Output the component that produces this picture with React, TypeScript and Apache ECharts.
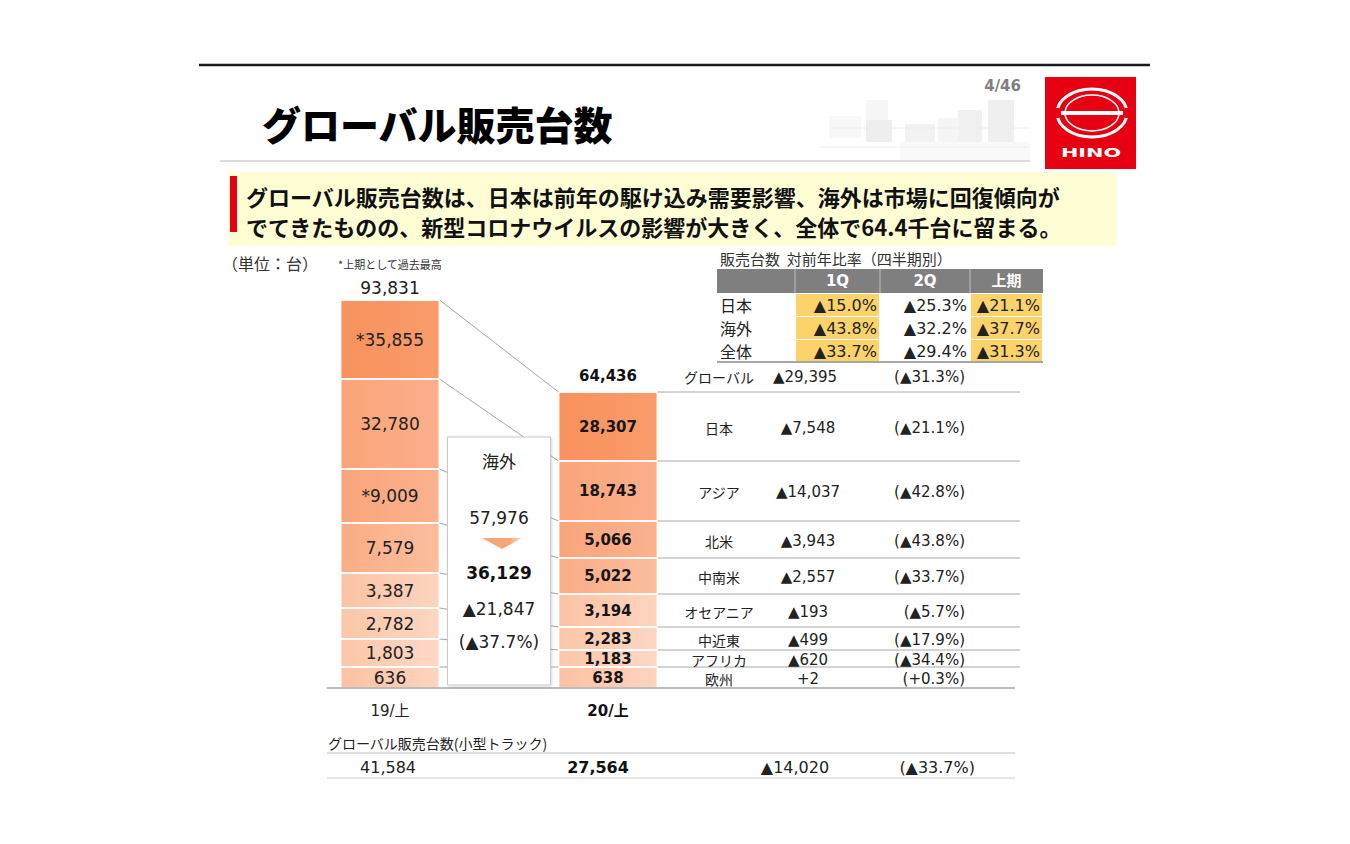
import { useEffect, useRef } from 'react';
import * as echarts from 'echarts';

const JP = '"Noto Sans CJK JP", "Noto Sans", sans-serif';
const NUM = '"DejaVu Sans", "Noto Sans CJK JP", sans-serif';

// ---- data ----
const periods = ['19/上', '20/上'];
const regions = ['日本', 'アジア', '北米', '中南米', 'オセアニア', '中近東', 'アフリカ', '欧州'];
const sales19 = [35855, 32780, 9009, 7579, 3387, 2782, 1803, 636];
const sales20 = [28307, 18743, 5066, 5022, 3194, 2283, 1183, 638];
const record19 = [true, false, true, false, false, false, false, false]; // * 上期として過去最高
const change = [-7548, -14037, -3943, -2557, -193, -499, -620, 2];
const changePct = [-21.1, -42.8, -43.8, -33.7, -5.7, -17.9, -34.4, 0.3];
// segment heights as drawn on the slide (schematic, not to scale)
const slideHeight19 = [79, 90, 54, 50, 35, 31, 28, 21];
const slideHeight20 = [69, 60, 37, 36, 33, 23, 17, 21];
const totals = [93831, 64436];
const globalChange = -29395;
const globalPct = -31.3;
const overseas = [57976, 36129];
const overseasChange = -21847;
const overseasPct = -37.7;
const smallTruck = [41584, 27564];
const smallTruckChange = -14020;
const smallTruckPct = -33.7;
const qRows = ['日本', '海外', '全体'];
const qCols = ['1Q', '2Q', '上期'];
const qJapan = [-15.0, -25.3, -21.1];
const qOverseas = [-43.8, -32.2, -37.7];
const qTotal = [-33.7, -29.4, -31.3];

// ---- styles ----
const segColors = [
  ['#F8925E', '#F99C6C'],
  ['#FAA47A', '#FBAF8A'],
  ['#F9A57B', '#FAB28E'],
  ['#FAAD85', '#FBBD9D'],
  ['#FCC3A5', '#FDD4BE'],
  ['#FCC6A9', '#FDD6C2'],
  ['#FCC6A9', '#FDD8C5'],
  ['#FCC2A3', '#FDD4BE'],
];

const fmt = (n: number) => n.toLocaleString('en-US');
const signed = (n: number) => (n < 0 ? '▲' + fmt(-n) : '+' + fmt(n));
const pct = (p: number) => (p < 0 ? '▲' : '+') + Math.abs(p).toFixed(1) + '%';

function txt(x: number, y: number, text: string, o: any = {}) {
  return {
    type: 'text',
    x,
    y,
    z: o.z ?? 20,
    scaleX: o.scaleX ?? 1,
    style: {
      text,
      fill: o.fill ?? '#222',
      fontSize: o.size ?? 15,
      fontFamily: o.family ?? JP,
      fontWeight: o.weight ?? 'normal',
      align: o.align ?? 'center',
      verticalAlign: 'middle',
    },
  };
}
function line(x1: number, y1: number, x2: number, y2: number, stroke: string, w = 1, z = 5) {
  return { type: 'line', z, shape: { x1, y1, x2, y2 }, style: { stroke, lineWidth: w } };
}
function rect(x: number, y: number, w: number, h: number, style: any, z = 1) {
  return { type: 'rect', z, shape: { x, y, width: w, height: h }, style };
}

export default function App() {
  const ref = useRef<HTMLDivElement>(null);

  useEffect(() => {
    if (!ref.current) return;
    const chart = echarts.init(ref.current, null, { renderer: 'svg' });

    const order = regions.map((_, i) => i).reverse();
    const series = order.map((i) => ({
      name: regions[i],
      type: 'bar',
      stack: 'total',
      barWidth: 99,
      itemStyle: {
        color: new echarts.graphic.LinearGradient(0, 0, 1, 0, [
          { offset: 0, color: segColors[i][0] },
          { offset: 1, color: segColors[i][1] },
        ]),
        borderColor: 'rgba(255,255,255,0.85)',
        borderWidth: 1,
      },
      data: [
        {
          value: slideHeight19[i],
          label: {
            show: true,
            position: 'inside',
            formatter: (record19[i] ? '*' : '') + fmt(sales19[i]),
            fontSize: 17,
            fontFamily: NUM,
            color: '#222',
          },
        },
        {
          value: slideHeight20[i],
          label: {
            show: true,
            position: 'inside',
            formatter: fmt(sales20[i]),
            fontSize: 15,
            fontWeight: 'bold',
            fontFamily: NUM,
            color: '#161616',
          },
        },
      ],
    }));

    chart.setOption({
      animation: false,
      backgroundColor: '#ffffff',
      grid: { left: 281, right: 633, top: 288, bottom: 156 },
      xAxis: {
        type: 'category',
        data: periods,
        axisLine: { show: false },
        axisTick: { show: false },
        axisLabel: {
          margin: 15,
          formatter: (v: string, idx: number) => (idx === 0 ? `{n|${v}}` : `{b|${v}}`),
          rich: {
            n: { fontSize: 15, fontFamily: NUM, color: '#222' },
            b: { fontSize: 15, fontFamily: NUM, fontWeight: 'bold', color: '#111' },
          },
        },
      },
      yAxis: { type: 'value', min: 0, max: 400, show: false },
      series,
    });

    const xL = chart.convertToPixel({ xAxisIndex: 0 }, periods[0]) as number;
    const xR = chart.convertToPixel({ xAxisIndex: 0 }, periods[1]) as number;
    const hw = 49.5;
    const bounds = (h: number[]) => {
      const T = h.reduce((a, b) => a + b, 0);
      const out: number[] = [];
      let v = T;
      out.push(chart.convertToPixel({ yAxisIndex: 0 }, v) as number);
      for (const s of h) {
        v -= s;
        out.push(chart.convertToPixel({ yAxisIndex: 0 }, v) as number);
      }
      return out;
    };
    const yL = bounds(slideHeight19);
    const yR = bounds(slideHeight20);
    const y0 = yL[yL.length - 1];

    const els: any[] = [];
    // page frame
    els.push(line(199, 65, 1150, 65, '#1a1a1a', 2.5));
    els.push(line(220, 161, 1030, 161, '#dcdcdc', 2));
    // faint pixelated artifacts
    const blocks = [
      [829, 116, 32, 22, '#f8f8f8'],
      [866, 100, 22, 20, '#f6f6f6'],
      [866, 120, 26, 22, '#eeeeee'],
      [905, 124, 30, 18, '#f2f2f2'],
      [938, 118, 20, 24, '#f5f5f5'],
      [958, 110, 24, 32, '#f0f0f0'],
      [988, 100, 26, 42, '#efefef'],
      [900, 142, 130, 18, '#f9f9f9'],
    ];
    blocks.forEach((b) => els.push(rect(b[0] as number, b[1] as number, b[2] as number, b[3] as number, { fill: b[4] as string }, 0)));
    els.push(line(830, 128, 1030, 128, '#eeeeee', 1, 0));
    els.push(line(820, 147, 1030, 147, '#eeeeee', 1, 0));
    els.push(txt(1021, 86, '4/46', { align: 'right', size: 15, weight: 'bold', fill: '#808080', family: NUM }));
    els.push(txt(262, 123, 'グローバル販売台数', { align: 'left', size: 39, weight: 900, fill: '#000' }));

    // logo
    els.push(rect(1045, 77, 91, 92, { fill: '#E60012' }, 2));
    els.push({ type: 'ellipse', z: 3, shape: { cx: 1092, cy: 113, rx: 35, ry: 24 }, style: { fill: 'none', stroke: '#fff', lineWidth: 3 } });
    els.push({ type: 'ellipse', z: 3, shape: { cx: 1092, cy: 113, rx: 27, ry: 18 }, style: { fill: 'none', stroke: '#fff', lineWidth: 1.5 } });
    els.push(rect(1061, 111, 62, 4, { fill: '#fff' }, 3));
    els.push(rect(1053, 108, 6, 10, { fill: '#E60012' }, 4));
    els.push(rect(1125, 108, 6, 10, { fill: '#E60012' }, 4));
    els.push(txt(1091, 153, 'HINO', { size: 13, weight: 'bold', fill: '#fff', family: NUM, scaleX: 1.6, z: 5 }));

    // headline
    els.push(rect(228, 172, 889, 74, { fill: '#FEFDD4' }, 1));
    els.push(rect(230, 176, 7, 56, { fill: '#E60012' }, 2));
    els.push(txt(246, 196, 'グローバル販売台数は、日本は前年の駆け込み需要影響、海外は市場に回復傾向が', { align: 'left', size: 22, weight: 'bold', fill: '#111' }));
    els.push(txt(246, 226, 'でてきたものの、新型コロナウイルスの影響が大きく、全体で64.4千台に留まる。', { align: 'left', size: 22, weight: 'bold', fill: '#111' }));

    // unit notes
    els.push(txt(222, 263, '（単位：台）', { align: 'left', size: 16, fill: '#333' }));
    els.push(txt(338, 264, '*上期として過去最高', { align: 'left', size: 11, fill: '#333' }));

    // quarterly table
    const cx = [717, 795, 880, 970, 1043];
    els.push(txt(720, 258, '販売台数  対前年比率（四半期別）', { align: 'left', size: 15, fill: '#333' }));
    els.push(rect(cx[0], 269, cx[4] - cx[0], 24, { fill: '#7f7f7f' }, 2));
    [cx[1], cx[2], cx[3]].forEach((x) => els.push(line(x, 269, x, 293, '#c0c0c0', 1, 3)));
    qCols.forEach((c, j) => els.push(txt((cx[j + 1] + cx[j + 2]) / 2, 281, c, { size: 15, weight: 'bold', fill: '#fff', family: NUM })));
    const qVals = [qJapan, qOverseas, qTotal];
    qRows.forEach((r, i) => {
      const top = 293 + i * 23;
      const mid = top + 12;
      els.push(txt(720, mid, r, { align: 'left', size: 16, fill: '#222' }));
      qVals[i].forEach((v, j) => {
        if (j !== 1) els.push(rect(cx[j + 1] + 1, top + 1, cx[j + 2] - cx[j + 1] - 2, 22, { fill: '#FCD36B' }, 2));
        els.push(txt(cx[j + 2] - 3, mid, pct(v), { align: 'right', size: 16, family: NUM, fill: '#222' }));
      });
    });
    els.push(line(cx[0], 362, cx[4], 362, '#a6a6a6', 2));

    // connectors between bars
    for (let k = 0; k < yL.length - 1; k++) {
      els.push(line(xL + hw, yL[k], xR - hw, yR[k], '#8f8f8f', 0.8, 4));
    }
    // right-hand table
    for (let k = 0; k < yR.length - 1; k++) {
      els.push(line(xR + hw, yR[k], 1020, yR[k], '#a8a8a8', 1, 4));
    }
    els.push(line(327, y0, 1015, y0, '#a6a6a6', 1.5, 6));
    const gy = yR[0] - 15;
    els.push(txt(719, gy, 'グローバル', { size: 14 }));
    els.push(txt(805, gy, signed(globalChange), { family: NUM }));
    els.push(txt(965, gy, '(' + pct(globalPct) + ')', { align: 'right', family: NUM }));
    regions.forEach((r, i) => {
      const my = (yR[i] + yR[i + 1]) / 2 + 1;
      els.push(txt(719, my, r, { size: 14 }));
      els.push(txt(808, my, signed(change[i]), { family: NUM }));
      els.push(txt(965, my, '(' + pct(changePct[i]) + ')', { align: 'right', family: NUM }));
    });

    // totals above bars
    els.push(txt(xL, yL[0] - 12, fmt(totals[0]), { size: 17, family: NUM, fill: '#222' }));
    els.push(txt(xR, yR[0] - 16, fmt(totals[1]), { size: 15, weight: 'bold', family: NUM, fill: '#111' }));

    // overseas box
    const bx1 = xL + hw + 8;
    const bx2 = xR - hw - 8;
    const bc = (bx1 + bx2) / 2;
    els.push(rect(bx1, 437, bx2 - bx1, 248, {
      fill: '#fff', stroke: '#c9c9c9', lineWidth: 1,
      shadowBlur: 3, shadowColor: 'rgba(0,0,0,0.15)', shadowOffsetX: 1, shadowOffsetY: 1,
    }, 10));
    els.push(txt(bc, 460, '海外', { size: 17, z: 12 }));
    els.push(txt(bc, 518, fmt(overseas[0]), { size: 17, family: NUM, z: 12 }));
    els.push({
      type: 'polygon', z: 12,
      shape: { points: [[bc - 17, 538], [bc + 23, 538], [bc + 3, 549]] },
      style: { fill: new echarts.graphic.LinearGradient(0, 0, 1, 0, [
        { offset: 0, color: '#F8A676' }, { offset: 0.7, color: '#F8A676' }, { offset: 1, color: '#FCE3D2' },
      ]) },
    });
    els.push(txt(bc, 573, fmt(overseas[1]), { size: 17, weight: 'bold', family: NUM, z: 12, fill: '#111' }));
    els.push(txt(bc, 609, signed(overseasChange), { size: 17, family: NUM, z: 12 }));
    els.push(txt(bc, 642, '(' + pct(overseasPct) + ')', { size: 17, family: NUM, z: 12 }));

    // small trucks
    els.push(txt(328, 743, 'グローバル販売台数(小型トラック)', { align: 'left', size: 14, fill: '#222' }));
    els.push(line(327, 753, 1015, 753, '#bdbdbd', 1));
    els.push(txt(xL - 2, 767, fmt(smallTruck[0]), { size: 16, family: NUM }));
    els.push(txt(xR - 10, 767, fmt(smallTruck[1]), { size: 16, weight: 'bold', family: NUM, fill: '#111' }));
    els.push(txt(795, 767, signed(smallTruckChange), { size: 16, family: NUM }));
    els.push(txt(975, 767, '(' + pct(smallTruckPct) + ')', { align: 'right', size: 16, family: NUM }));
    els.push(line(327, 778, 1015, 778, '#d0d0d0', 1));

    chart.setOption({ graphic: { elements: els } });

    return () => chart.dispose();
  }, []);

  return (
    <div
      ref={ref}
      style={{ position: 'fixed', left: 0, top: 0, width: 1350, height: 844, background: '#fff' }}
    />
  );
}
